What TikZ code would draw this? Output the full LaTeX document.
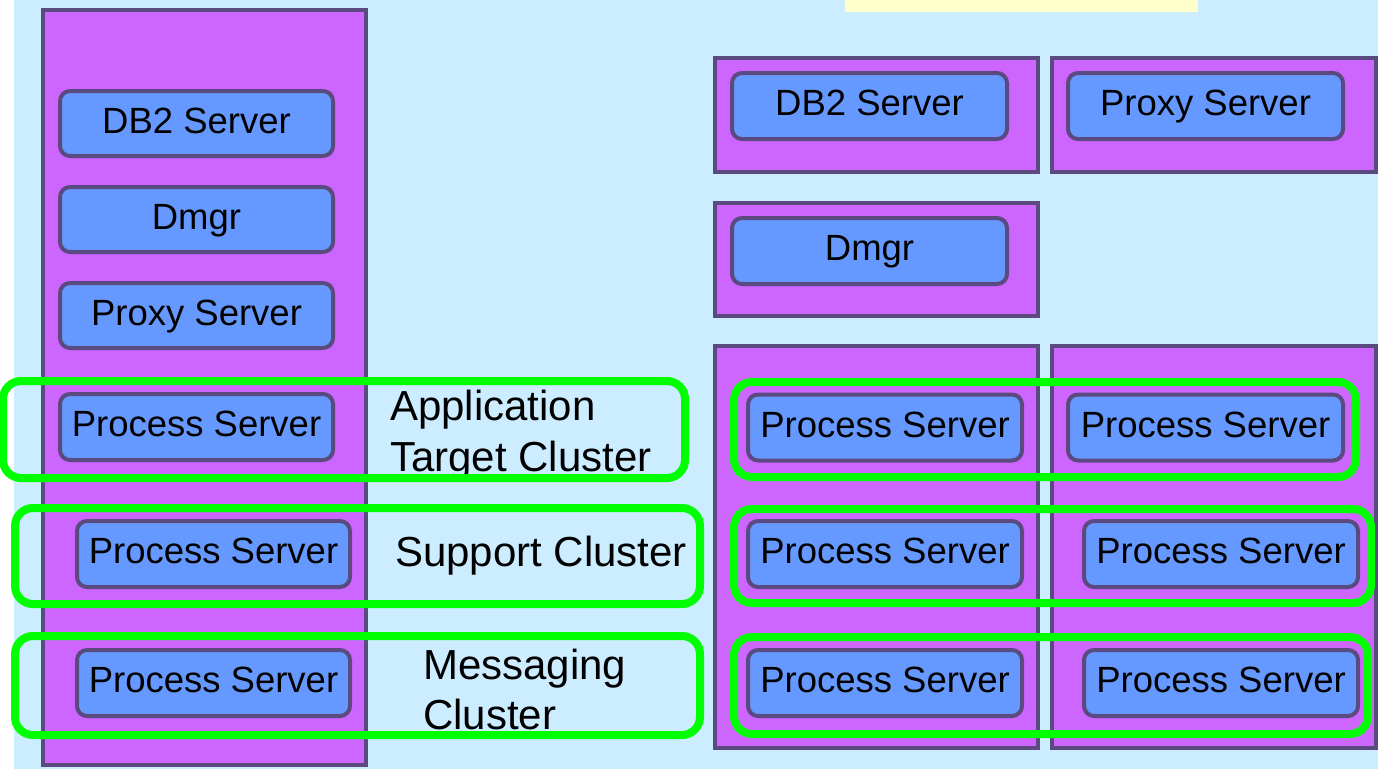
\documentclass[tikz,border=0pt]{standalone}
\usepackage{fontspec}
\setmainfont{Liberation Sans}
\definecolor{bg}{HTML}{CCECFF}
\definecolor{yel}{HTML}{FFFFCC}
\definecolor{purp}{HTML}{CC66FF}
\definecolor{edgec}{HTML}{5B4A80}
\definecolor{srv}{HTML}{6699FF}
\definecolor{grn}{HTML}{00FF00}
\tikzset{
 host/.style={draw=edgec, fill=purp, line width=4pt, rectangle, inner sep=0pt, outer sep=0pt},
 server/.style={draw=edgec, fill=srv, line width=4pt, rounded corners=10pt, inner sep=0pt, outer sep=0pt, text height=26pt, text depth=7pt, font=\fontsize{36.5}{40}\selectfont},
 cluster/.style={draw=grn, line width=8pt, rounded corners=18pt, inner sep=0pt, outer sep=0pt},
 lbl/.style={font=\fontsize{42}{51}\selectfont, inner sep=0pt, anchor=base west}
}
\begin{document}
\begin{tikzpicture}[x=1pt,y=-1pt]
\useasboundingbox (0,0) rectangle (1378,769);
\fill[bg] (14,0) rectangle (1378,769);
\fill[yel] (845,0) rectangle (1198,12);
% hosts
\node[host, minimum width=323, minimum height=755] (hL) at (204.5,387.5) {};
\node[host, minimum width=323, minimum height=114] (hDB) at (876.5,115) {};
\node[host, minimum width=324, minimum height=114] (hPX) at (1214,115) {};
\node[host, minimum width=323, minimum height=113] (hDM) at (876.5,259.5) {};
\node[host, minimum width=323, minimum height=402] (hR1) at (876.5,547) {};
\node[host, minimum width=324, minimum height=402] (hR2) at (1214,547) {};
% left servers
\node[server, minimum width=273, minimum height=65] (lDB) at (196.5,123.5) {DB2 Server};
\node[server, minimum width=273, minimum height=65] (lDM) at (196.5,219.5) {Dmgr};
\node[server, minimum width=273, minimum height=65] (lPX) at (196.5,315.5) {Proxy Server};
\node[server, minimum width=273, minimum height=66] (lPS1) at (196.5,427) {Process Server};
\node[server, minimum width=273, minimum height=66] (lPS2) at (213.5,554) {Process Server};
\node[server, minimum width=273, minimum height=66] (lPS3) at (213.5,683) {Process Server};
% right servers
\node[server, minimum width=275, minimum height=66] (rDB) at (869.5,106) {DB2 Server};
\node[server, minimum width=275, minimum height=66] (rPX) at (1205.5,106) {Proxy Server};
\node[server, minimum width=275, minimum height=66] (rDM) at (869.5,251) {Dmgr};
\node[server, minimum width=274, minimum height=66] (rPS11) at (885,427.5) {Process Server};
\node[server, minimum width=274, minimum height=66] (rPS21) at (885,554) {Process Server};
\node[server, minimum width=274, minimum height=66] (rPS31) at (885,683) {Process Server};
\node[server, minimum width=275, minimum height=66] (rPS12) at (1205.5,427.5) {Process Server};
\node[server, minimum width=274, minimum height=66] (rPS22) at (1221,554) {Process Server};
\node[server, minimum width=274, minimum height=66] (rPS32) at (1221,683) {Process Server};
% labels
\node[lbl] (tA1) at (390,420) {Application};
\begin{scope}
\clip (380,430) rectangle (690,473);
\node[lbl] (tA2) at (390,471) {Target Cluster};
\end{scope}
\node[lbl] (tS) at (395,566) {Support Cluster};
\node[lbl] (tM1) at (423,679) {Messaging};
\node[lbl] (tM2) at (423,729) {Cluster};
% clusters
\node[cluster, minimum width=682, minimum height=97] (cA) at (344,429.5) {};
\node[cluster, minimum width=685, minimum height=96] (cS) at (357.5,556) {};
\node[cluster, minimum width=685, minimum height=99] (cM) at (357.5,685.5) {};
\node[cluster, minimum width=622, minimum height=95] (cR1) at (1045,429.5) {};
\node[cluster, minimum width=637, minimum height=94] (cR2) at (1052.5,556) {};
\node[cluster, minimum width=634, minimum height=97] (cR3) at (1051,685.5) {};
\end{tikzpicture}
\end{document}
